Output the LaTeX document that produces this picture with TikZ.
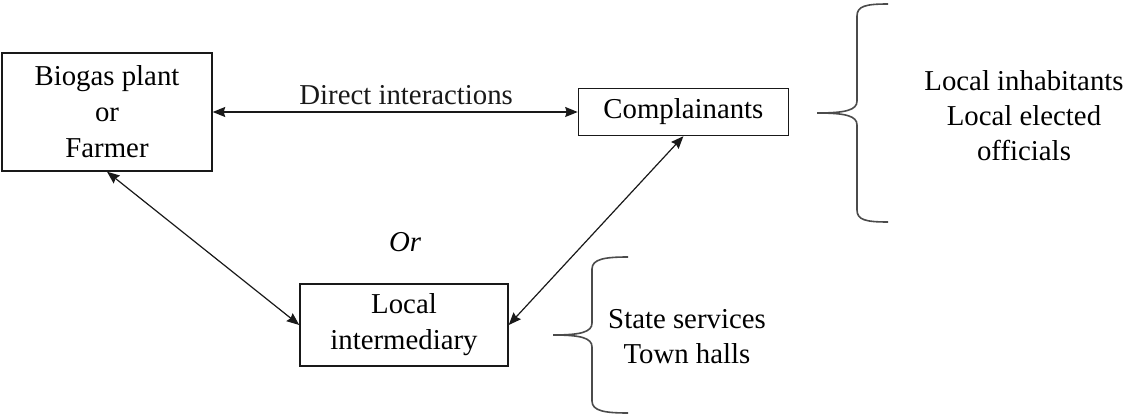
\documentclass[tikz,border=0pt]{standalone}
\usepackage{fontspec}
\setmainfont{Liberation Serif}
\usetikzlibrary{arrows.meta,positioning}
\definecolor{cLine}{RGB}{25,25,25}
\definecolor{cBrace}{RGB}{75,75,75}
\tikzset{
  basebox/.style={rectangle,draw=cLine,line width=1.4pt,align=center,
                  inner sep=0pt,font=\fontsize{28.8}{36}\selectfont},
  actornode/.style={basebox,minimum width=210pt,minimum height=118pt},
  compnode/.style={basebox,minimum width=210pt,minimum height=47pt},
  internode/.style={basebox,minimum width=208pt,minimum height=82pt},
  grouptext/.style={align=center,inner sep=0pt,font=\fontsize{28.8}{35}\selectfont},
  dblarr/.style={{Stealth[length=12.5pt,width=10pt,inset=1.5pt]}-{Stealth[length=12.5pt,width=10pt,inset=1.5pt]},
                 line width=1.2pt,color=cLine},
  bracepath/.style={line width=1.6pt,color=cBrace}
}
\begin{document}
\begin{tikzpicture}[x=1pt,y=-1pt]
  \useasboundingbox (0,0) rectangle (1126,414);

  \node[actornode] (bio) at (107,112) {Biogas plant\\or\\Farmer};
  \node[compnode, right=365pt of bio] (comp) {Complainants};
  \node[internode] (inter) at (404,325) {Local\\intermediary};

  \node[grouptext] (or) at (405,242) {\itshape Or};

  % who the complainants are
  \draw[bracepath] (888,4) .. controls (866,4) and (857,6) .. (857,16)
      -- (857,101) .. controls (857,110) and (846,113) .. (817,113)
      .. controls (846,113) and (857,116) .. (857,125)
      -- (857,210) .. controls (857,220) and (866,222) .. (888,222);
  \node[grouptext] (locals) at (1024,116)
      {Local inhabitants\\Local elected\\officials};

  % who acts as intermediary
  \draw[bracepath] (628,257) .. controls (605,257) and (592,259) .. (592,269)
      -- (592,323) .. controls (592,332) and (581,335) .. (553,335)
      .. controls (581,335) and (592,338) .. (592,347)
      -- (592,401) .. controls (592,411) and (605,413) .. (628,413);
  \node[grouptext] (state) at (687,337) {State services\\Town halls};

  \draw[dblarr] (bio.east) -- (comp.west)
      node[pos=0.53,above=3pt,font=\fontsize{28.8}{36}\selectfont]{Direct interactions};
  \draw[dblarr] (bio.south) -- (inter.west);
  \draw[dblarr] (comp.south) -- (inter.east);

\end{tikzpicture}
\end{document}
